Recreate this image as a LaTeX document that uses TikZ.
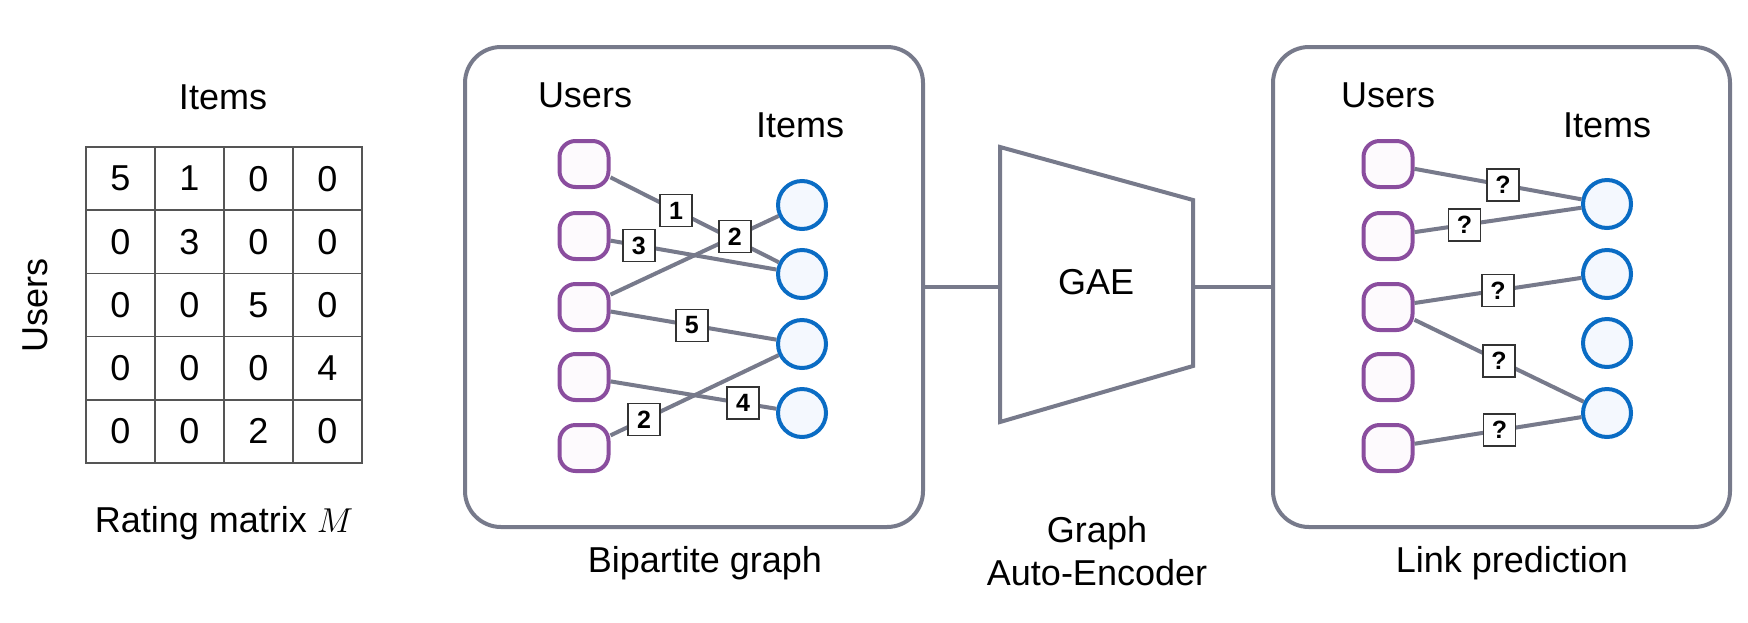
\documentclass[tikz,border=0pt]{standalone}
\usepackage{fontspec}
\setmainfont{Liberation Sans}
\definecolor{edgegray}{HTML}{777A8B}
\definecolor{userpurple}{HTML}{8A4D9E}
\definecolor{userfill}{HTML}{FDFAFD}
\definecolor{itemblue}{HTML}{0A6CC4}
\definecolor{itemfill}{HTML}{F4F8FE}
\definecolor{gridgray}{HTML}{555555}
\begin{document}
\begin{tikzpicture}[x=0.5pt,y=-0.5pt,
  txt/.style={font=\fontsize{18}{21.5}\selectfont, inner sep=0pt},
  usernode/.style={rectangle, rounded corners=8pt, draw=userpurple, fill=userfill, line width=2pt, minimum width=24.5pt, minimum height=23pt, inner sep=0pt},
  itemnode/.style={circle, draw=itemblue, fill=itemfill, line width=2pt, minimum size=24pt, inner sep=0pt},
  link/.style={draw=edgegray, line width=2pt},
  wlabel/.style={draw=black!80, fill=white, line width=0.8pt, font=\bfseries\fontsize{12.5}{13}\selectfont, minimum size=16pt, inner sep=0pt},
  panel/.style={draw=edgegray, line width=2pt, rounded corners=18pt},
  cell/.style={draw=gridgray, line width=0.8pt, minimum width=34.5pt, minimum height=31.6pt, inner sep=0pt, font=\fontsize{18}{21.5}\selectfont}]
\useasboundingbox (0,0) rectangle (1748,622);

% ---------- rating matrix ----------
\node[txt] (mItems) at (223,97) {Items};
\node[txt, rotate=90] (mUsers) at (35,305) {Users};
\foreach \v [count=\k from 0] in {5,1,0,0, 0,3,0,0, 0,0,5,0, 0,0,0,4, 0,0,2,0} {
  \pgfmathtruncatemacro\rr{div(\k,4)}
  \pgfmathtruncatemacro\cc{mod(\k,4)}
  \node[cell] (c\rr\cc) at ({120.5+69*\cc},{178.6+63.2*\rr}) {\v};
}
\node[txt] (mcap) at (224,523) {Rating matrix $M$};

% ---------- bipartite graph panel ----------
\node[panel, minimum width=229pt, minimum height=240pt] (bip) at (694,287) {};
\node[txt] (bUsers) at (585,95) {Users};
\node[txt] (bItems) at (800,125) {Items};
\foreach \y [count=\i] in {164,236,307,377,448} {
  \node[usernode] (bu\i) at (584,\y) {};
}
\foreach \y [count=\i] in {205,274,344,413} {
  \node[itemnode] (bi\i) at (802,\y) {};
}
\draw[link] (bu1) -- node[wlabel, pos=0.39] (bl1) {1} (bi2);
\draw[link] (bu2) -- node[wlabel, pos=0.17] (bl2) {3} (bi2);
\draw[link] (bu3) -- node[wlabel, pos=0.74] (bl3) {2} (bi1);
\draw[link] (bu3) -- node[wlabel, pos=0.49] (bl4) {5} (bi3);
\draw[link] (bu4) -- node[wlabel, pos=0.80] (bl5) {4} (bi4);
\draw[link] (bu5) -- node[wlabel, pos=0.20] (bl6) {2} (bi3);
\node[txt] (bcap) at (705,563) {Bipartite graph};

% ---------- GAE ----------
\draw[edgegray, line width=2pt] (1000,147) -- (1193,200) -- (1193,366) -- (1000,422) -- cycle;
\node[txt] (gae) at (1096,282) {GAE};
\coordinate (gW) at (1000,287);
\coordinate (gE) at (1193,287);
\node[txt, align=center] (gcap) at (1097,551) {Graph\\Auto-Encoder};

% ---------- link prediction panel ----------
\node[panel, minimum width=228.5pt, minimum height=240pt] (lp) at (1501.5,287) {};
\node[txt] (lUsers) at (1388,95) {Users};
\node[txt] (lItems) at (1607,125) {Items};
\foreach \y [count=\i] in {164,236,307,377,448} {
  \node[usernode] (lu\i) at (1388,\y) {};
}
\foreach \y [count=\i] in {204,274,343,413} {
  \node[itemnode] (li\i) at (1607,\y) {};
}
\draw[link] (lu1) -- node[wlabel, pos=0.53] (ll1) {?} (li1);
\draw[link] (lu2) -- node[wlabel, pos=0.30] (ll2) {?} (li1);
\draw[link] (lu3) -- node[wlabel, pos=0.50] (ll3) {?} (li2);
\draw[link] (lu3) -- node[wlabel, pos=0.50] (ll4) {?} (li4);
\draw[link] (lu5) -- node[wlabel, pos=0.51] (ll5) {?} (li4);
\node[txt] (lcap) at (1512,563) {Link prediction};

% ---------- connectors between stages ----------
\draw[edgegray, line width=2pt] (bip.east) -- (gW);
\draw[edgegray, line width=2pt] (gE) -- (lp.west);
\end{tikzpicture}
\end{document}
